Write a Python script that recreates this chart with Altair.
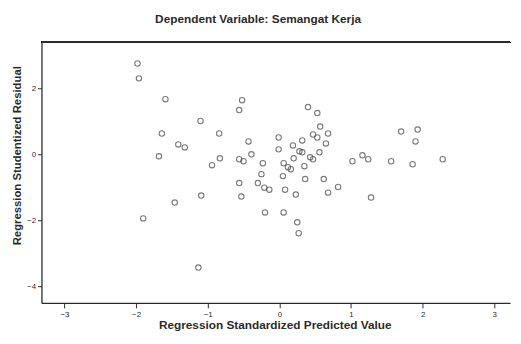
import altair as alt
import pandas as pd

pred = [-1.98, -1.96, -1.59, -0.52, -0.56, -1.10, -1.64, -0.84, -1.41, -1.32,
        -1.68, -0.83, -0.94, -0.56, -0.50, -0.43, -0.39, -0.23, 0.40, 0.53,
        0.57, 0.68, 0.47, 0.53, 0.65, -0.01, 0.32, 0.19, -0.01, 0.56,
        0.28, 0.32, 0.43, 0.47, 0.20, 0.06, 0.12, 0.16, 0.35, -0.25,
        0.05, 0.36, 0.62, -0.56, -0.30, -0.21, -0.14, 0.08, 0.23, 0.68,
        0.82, -0.53, -1.09, -1.46, -1.90, -0.20, 0.06, 0.25, 0.27, -1.13,
        1.02, 1.16, 1.24, 1.56, 1.28, 1.70, 1.93, 1.90, 1.86, 2.28]
resid = [2.75, 2.30, 1.67, 1.64, 1.34, 1.01, 0.63, 0.63, 0.30, 0.21,
         -0.06, -0.12, -0.33, -0.15, -0.21, 0.39, 0.00, -0.27, 1.43, 1.25,
         0.84, 0.63, 0.60, 0.51, 0.33, 0.51, 0.42, 0.27, 0.15, 0.06,
         0.09, 0.06, -0.09, -0.15, -0.12, -0.27, -0.39, -0.45, -0.36, -0.60,
         -0.66, -0.75, -0.75, -0.87, -0.87, -1.01, -1.07, -1.07, -1.22, -1.16,
         -0.99, -1.28, -1.25, -1.46, -1.94, -1.76, -1.76, -2.06, -2.39, -3.43,
         -0.21, -0.03, -0.15, -0.21, -1.31, 0.69, 0.75, 0.39, -0.30, -0.15]
x_ticks = [-3, -2, -1, 0, 1, 2, 3]
y_ticks = [-4, -2, 0, 2]

df = pd.DataFrame({"pred": pred, "resid": resid})

W, H = 476, 265
FONT = "Liberation Sans"
INK = "#2a2a2a"

points = alt.Chart(df).mark_point(
    shape="circle", filled=False, size=30, stroke="#444", strokeWidth=1.1
).encode(
    x=alt.X("pred:Q",
            scale=alt.Scale(domain=[-3.32, 3.22], nice=False, zero=False),
            axis=alt.Axis(values=x_ticks, title="Regression Standardized Predicted Value",
                          grid=False, domainColor=INK, domainWidth=1.3,
                          tickColor=INK, tickSize=5, labelFontSize=8, labelColor=INK,
                          labelFont=FONT, labelPadding=3,
                          titleFont=FONT, titleFontSize=12, titleFontWeight="bold",
                          titleColor=INK, titleX=237, titleY=26,
                          titleAnchor="middle", titleAlign="center",
                          titleBaseline="alphabetic")),
    y=alt.Y("resid:Q",
            scale=alt.Scale(domain=[-4.5, 3.4], nice=False, zero=False),
            axis=alt.Axis(values=y_ticks, title="Regression Studentized Residual",
                          grid=False, domainColor=INK, domainWidth=1.3,
                          tickColor=INK, tickSize=4, labelFontSize=8, labelColor=INK,
                          labelFont=FONT, labelPadding=2,
                          titleFont=FONT, titleFontSize=11.5, titleFontWeight="bold",
                          titleColor=INK, titleX=-24, titleY=115, titleAngle=-90,
                          titleAlign="center", titleBaseline="middle")),
)

top_line = alt.Chart(df).mark_rule(color=INK, strokeWidth=1.3).encode(
    x=alt.value(0), x2=alt.value(W), y=alt.value(0)
)

chart = alt.layer(points, top_line).properties(
    width=W, height=H,
    autosize=alt.AutoSizeParams(type="none"),
    padding={"left": 34, "top": 32, "right": 3, "bottom": 30},
    title=alt.TitleParams("Dependent Variable: Semangat Kerja", font=FONT,
                          fontSize=12, fontWeight="bold", color=INK,
                          anchor="middle", dx=-18, offset=16),
).configure_view(stroke=None)

chart.save("out.html", embed_options={"renderer": "svg", "actions": False})
